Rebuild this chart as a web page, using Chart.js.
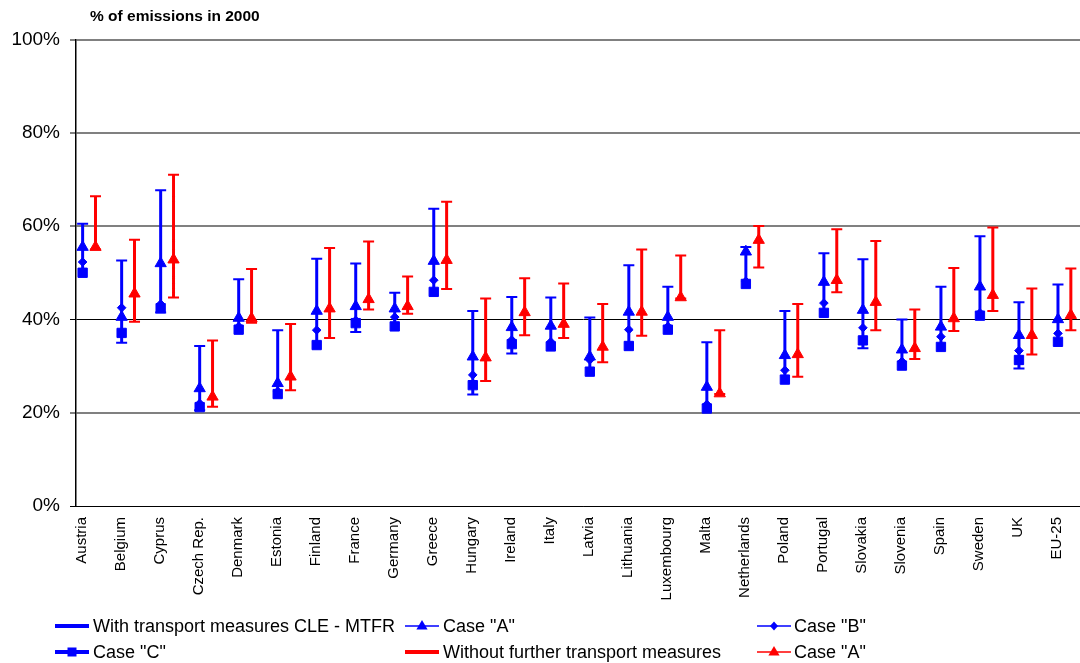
<!DOCTYPE html>
<html><head><meta charset="utf-8">
<script src="https://cdn.jsdelivr.net/npm/chart.js@4"></script>
<style>
html,body{margin:0;padding:0;background:#fff;overflow:hidden;width:1080px;height:663px;}
#wrap{position:absolute;left:0;top:0;width:1100px;height:663px;}
#title{position:absolute;left:90px;top:7px;font:bold 15.5px "Liberation Sans",Arial,sans-serif;color:#000;white-space:nowrap;}
.lg{position:absolute;font:18px "Liberation Sans",Arial,sans-serif;line-height:20px;white-space:nowrap;color:#000;}
svg.ic{position:absolute;overflow:visible;}
</style></head><body>
<div id="wrap"><canvas id="c"></canvas></div>
<div id="title">% of emissions in 2000</div>
<div id="legend"></div>
<script>
const categories = ["Austria","Belgium","Cyprus","Czech Rep.","Denmark","Estonia","Finland","France","Germany","Greece","Hungary","Ireland","Italy","Latvia","Lithuania","Luxembourg","Malta","Netherlands","Poland","Portugal","Slovakia","Slovenia","Spain","Sweden","UK","EU-25"];
const yTicks = [0, 20, 40, 60, 80, 100];

// With transport measures CLE - MTFR (blue)
const blueHigh = [60.5, 52.6, 67.7, 34.3, 48.6, 37.7, 53.0, 52.0, 45.7, 63.7, 41.8, 44.8, 44.7, 40.4, 51.6, 47.0, 35.1, 55.5, 41.8, 54.2, 52.9, 40.0, 47.0, 57.8, 43.7, 47.5];
const blueLow  = [50.0, 35.0, 41.5, 20.5, 37.8, 24.0, 34.5, 37.3, 38.5, 45.9, 23.9, 32.7, 34.0, 28.8, 34.3, 37.8, 20.9, 47.6, 27.0, 41.4, 33.8, 30.1, 34.1, 40.8, 29.5, 35.2];
const blueA    = [55.5, 40.5, 52.0, 25.2, 40.3, 26.3, 41.8, 42.8, 42.3, 52.5, 32.0, 38.3, 38.6, 32.0, 41.6, 40.5, 25.5, 54.5, 32.3, 48.0, 42.0, 33.5, 38.4, 47.0, 36.6, 40.0];
const blueB    = [52.3, 42.5, 43.3, 22.0, 38.5, 24.6, 37.7, 39.8, 40.5, 48.4, 28.1, 35.6, 35.2, 31.3, 37.8, 38.5, 21.8, 48.2, 29.1, 43.5, 38.2, 31.0, 36.3, 41.4, 33.3, 37.0];
const blueC    = [50.0, 37.1, 42.4, 21.2, 37.8, 24.0, 34.5, 39.2, 38.5, 45.9, 25.9, 34.7, 34.2, 28.8, 34.3, 37.8, 20.9, 47.6, 27.1, 41.4, 35.5, 30.1, 34.1, 40.8, 31.3, 35.2];

// Without further transport measures (red)
const redHigh  = [66.4, 57.1, 71.0, 35.5, 50.8, 39.0, 55.3, 56.7, 49.2, 65.2, 44.5, 48.8, 47.7, 43.3, 55.0, 53.7, 37.7, 60.0, 43.3, 59.3, 56.8, 42.1, 51.0, 59.7, 46.6, 50.9];
const redLow   = [55.0, 39.5, 44.7, 21.3, 39.3, 24.8, 36.0, 42.1, 41.2, 46.5, 26.8, 36.6, 36.0, 30.8, 36.5, 44.5, 24.0, 51.1, 27.7, 45.8, 37.7, 31.5, 37.5, 41.8, 32.5, 37.7];
const redA     = [55.5, 45.5, 52.8, 23.4, 40.2, 27.7, 42.3, 44.3, 42.8, 52.7, 31.8, 41.5, 39.0, 34.1, 41.6, 44.7, 24.1, 57.0, 32.5, 48.4, 43.7, 33.8, 40.2, 45.2, 36.6, 40.9];

const BLUE = '#0000FF', RED = '#FF0000';
const FONT = '"Liberation Sans", Arial, sans-serif';
const bx = i => i + 0.17;   // blue series sits left of category centre
const rx = i => i + 0.5;    // red series at category centre

function rangeData(low, high, xf) {
  const d = [];
  categories.forEach((c, i) => { d.push({x: xf(i), y: low[i]}, {x: xf(i), y: high[i]}, {x: xf(i), y: null}); });
  return d;
}
const pts = (arr, xf) => arr.map((v, i) => ({x: xf(i), y: v}));
const blueCaps = [];
categories.forEach((c, i) => {
  blueCaps.push({x: bx(i), y: blueHigh[i]});
  if (blueLow[i] < blueC[i] - 0.3) blueCaps.push({x: bx(i), y: blueLow[i]});
});
const redCaps = [];
categories.forEach((c, i) => { redCaps.push({x: rx(i), y: redHigh[i]}, {x: rx(i), y: redLow[i]}); });

function markerDs(data, color, style, r) {
  return {data, showLine: false, pointStyle: style, pointRadius: r, pointHoverRadius: r,
    backgroundColor: color, borderColor: color, pointBorderWidth: 1};
}

new Chart(document.getElementById('c'), {
  type: 'scatter',
  data: { datasets: [
    markerDs(pts(redA, rx), RED, 'triangle', 6.5),
    markerDs(pts(blueA, bx), BLUE, 'triangle', 6.5),
    markerDs(pts(blueB, bx), BLUE, 'rectRot', 4.3),
    markerDs(pts(blueC, bx), BLUE, 'rect', 6.6),
    {data: redCaps, showLine: false, pointStyle: 'line', pointRadius: 5.5, borderColor: RED, backgroundColor: RED, pointBorderWidth: 2},
    {data: blueCaps, showLine: false, pointStyle: 'line', pointRadius: 5.5, borderColor: BLUE, backgroundColor: BLUE, pointBorderWidth: 2},
    {data: rangeData(redLow, redHigh, rx), showLine: true, spanGaps: false, borderColor: RED, borderWidth: 3, pointRadius: 0},
    {data: rangeData(blueLow, blueHigh, bx), showLine: true, spanGaps: false, borderColor: BLUE, borderWidth: 3, pointRadius: 0}
  ]},
  options: {
    responsive: true, maintainAspectRatio: false, animation: false,
    layout: {padding: {top: 39.5, left: 0, right: 0, bottom: 0}},
    plugins: {legend: {display: false}, tooltip: {enabled: false}, title: {display: false}},
    scales: {
      x: {
        type: 'linear', min: 0, max: categories.length,
        afterBuildTicks: s => { s.ticks = categories.map((c, i) => ({value: i + 0.5})); },
        afterFit: s => { s.height = 157; },
        grid: {display: false, drawTicks: false},
        border: {display: true, color: '#000', width: 1},
        ticks: {
          autoSkip: false, minRotation: 90, maxRotation: 90, padding: 11, labelOffset: -14,
          color: '#000', font: {family: FONT, size: 15},
          callback: (v, idx) => categories[idx]
        }
      },
      y: {
        min: 0, max: 100,
        afterBuildTicks: s => { s.ticks = yTicks.map(v => ({value: v})); },
        afterFit: s => { s.width = 76; },
        grid: {
          color: c => (c.tick && (c.tick.value === 40 || c.tick.value === 0)) ? '#000' : '#808080',
          lineWidth: c => (c.tick && (c.tick.value === 40 || c.tick.value === 0)) ? 1 : 2,
          tickLength: 6
        },
        border: {display: true, color: '#000', width: 1.5},
        ticks: {padding: 10, color: '#000', font: {family: FONT, size: 19}, callback: v => v + '%'}
      }
    }
  }
});

// Legend (HTML)
const legendItems = [
  {icon: 'thick', color: BLUE, x: 55, y: 626, tx: 93, text: 'With transport measures CLE - MTFR'},
  {icon: 'triangle', color: BLUE, x: 405, y: 626, tx: 443, text: 'Case "A"'},
  {icon: 'diamond', color: BLUE, x: 757, y: 626, tx: 794, text: 'Case "B"'},
  {icon: 'square', color: BLUE, x: 55, y: 652, tx: 93, text: 'Case "C"'},
  {icon: 'thick', color: RED, x: 405, y: 652, tx: 443, text: 'Without further transport measures'},
  {icon: 'triangle', color: RED, x: 757, y: 652, tx: 794, text: 'Case "A"'}
];
const lg = document.getElementById('legend');
legendItems.forEach(it => {
  const w = 34, h = 16, cx = w / 2, cy = h / 2;
  let inner = '';
  if (it.icon === 'thick') {
    inner = `<line x1="0" y1="${cy}" x2="${w}" y2="${cy}" stroke="${it.color}" stroke-width="4"/>`;
  } else if (it.icon === 'triangle') {
    inner = `<line x1="0" y1="${cy}" x2="${w}" y2="${cy}" stroke="${it.color}" stroke-width="1.5"/>` +
      `<polygon points="${cx},${cy-6} ${cx+5.6},${cy+3.5} ${cx-5.6},${cy+3.5}" fill="${it.color}"/>`;
  } else if (it.icon === 'diamond') {
    inner = `<line x1="0" y1="${cy}" x2="${w}" y2="${cy}" stroke="${it.color}" stroke-width="1.5"/>` +
      `<polygon points="${cx},${cy-4.5} ${cx+4},${cy} ${cx},${cy+4.5} ${cx-4},${cy}" fill="${it.color}"/>`;
  } else if (it.icon === 'square') {
    inner = `<line x1="0" y1="${cy}" x2="${w}" y2="${cy}" stroke="${it.color}" stroke-width="4"/>` +
      `<rect x="${cx-4.5}" y="${cy-4.5}" width="9" height="9" fill="${it.color}"/>`;
  }
  const svg = `<svg class="ic" width="${w}" height="${h}" style="left:${it.x}px;top:${it.y - cy}px">${inner}</svg>`;
  lg.insertAdjacentHTML('beforeend', svg + `<div class="lg" style="left:${it.tx}px;top:${it.y - 10}px">${it.text.replace(/"/g, '&quot;')}</div>`);
});
</script>
</body></html>
